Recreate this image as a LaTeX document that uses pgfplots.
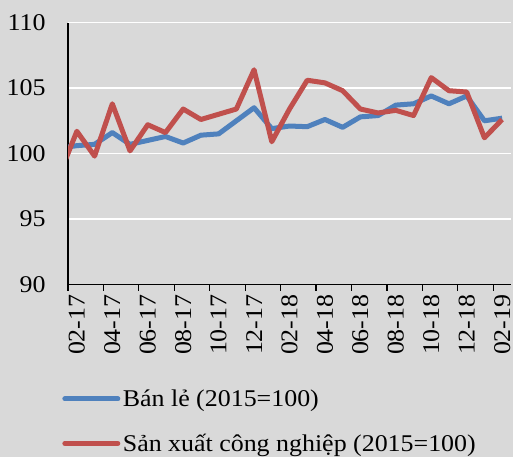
\documentclass[border=0pt]{standalone}
\usepackage{fontspec}
\setmainfont{Liberation Serif}[FakeStretch=1.08]
\usepackage{pgfplots}
\usepackage{pgfplotstable}
\pgfplotsset{compat=1.18}

\definecolor{bgc}{HTML}{D9D9D9}
\definecolor{bleblue}{HTML}{4F81BD}
\definecolor{sxred}{HTML}{C0504D}

% k = month index, 0 = 02-17 (k=-1 is 01-17, clipped at the left edge)
\pgfplotstableread{
k   banle   sanxuat
-1  100.4   98.3
0   100.6   101.7
1   100.7   99.8
2   101.6   103.8
3   100.7   100.2
4   101.0   102.2
5   101.3   101.6
6   100.8   103.4
7   101.4   102.6
8   101.5   103.0
9   102.5   103.4
10  103.5   106.4
11  101.9   100.9
12  102.1   103.4
13  102.05  105.6
14  102.6   105.4
15  102.0   104.8
16  102.8   103.4
17  102.9   103.1
18  103.7   103.3
19  103.8   102.9
20  104.4   105.8
21  103.8   104.8
22  104.4   104.7
23  102.5   101.2
24  102.7   102.6
}\datatable

\begin{document}
\begin{tikzpicture}
\fill[bgc] (0,0) rectangle (513pt,457pt);
\useasboundingbox (0,0) rectangle (513pt,457pt);
\begin{axis}[
  at={(68pt,172.7pt)}, anchor=south west,
  scale only axis,
  width=443pt, height=261.6pt,
  xmin=-0.5, xmax=24.5,
  ymin=90, ymax=110,
  ytick={90,95,...,110},
  xtick={0,2,...,24},
  xticklabels={02-17,04-17,06-17,08-17,10-17,12-17,02-18,04-18,06-18,08-18,10-18,12-18,02-19},
  minor xtick={-0.5,1.5,...,23.5},
  major tick length=0pt,
  minor tick length=6.5pt,
  tick align=outside,
  tick style={black, line width=1.2pt},
  axis lines*=left,
  axis line style={black, line width=1.2pt},
  ymajorgrids,
  grid style={white, line width=1.5pt},
  axis background/.style={fill=bgc},
  /pgf/number format/assume math mode=true,
  ticklabel style={font=\fontsize{24}{28}\selectfont},
  yticklabel style={xshift=-19pt},
  xticklabel style={yshift=-9pt, rotate=90, anchor=east, inner sep=1pt},
  legend style={
    at={(-0.02,-0.385)}, anchor=north west,
    draw=none, fill=none,
    font=\fontsize{24}{28}\selectfont,
    row sep=21pt,
    nodes={inner sep=2.5pt},
  },
  legend cell align=left,
  legend image code/.code={\draw[#1, line cap=round] (0pt,0pt) -- (53pt,0pt);},
]
\addplot[bleblue, line width=5pt, line join=round] table[x=k, y=banle] {\datatable};
\addplot[sxred, line width=5pt, line join=round] table[x=k, y=sanxuat] {\datatable};
\legend{Bán lẻ (2015=100), Sản xuất công nghiệp (2015=100)}
\end{axis}
\end{tikzpicture}
\end{document}
